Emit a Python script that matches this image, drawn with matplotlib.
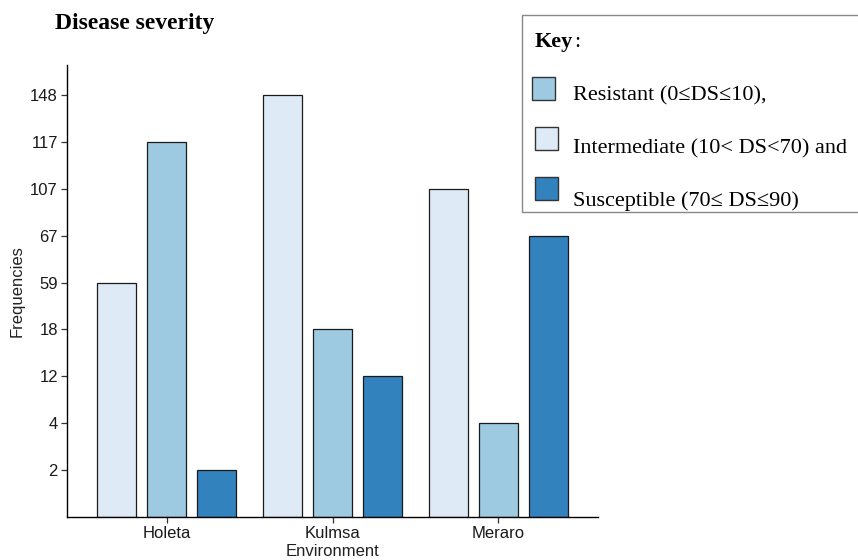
import numpy as np
import matplotlib.pyplot as plt
from matplotlib.patches import Rectangle

# Frequencies per environment and severity class
environments = ['Holeta', 'Kulmsa', 'Meraro']
intermediate = [59, 148, 107]
resistant = [117, 18, 4]
susceptible = [2, 12, 67]

colors = {'intermediate': '#deebf7', 'resistant': '#9ecae1', 'susceptible': '#3182bd'}

# y axis treats each distinct frequency as a discrete level
levels = sorted(set(intermediate + resistant + susceptible))
rank = {v: i + 1 for i, v in enumerate(levels)}

plt.rcParams['font.family'] = 'Liberation Sans'

fig = plt.figure(figsize=(8.58, 5.60), dpi=100)
ax = fig.add_axes([67 / 858, 1 - 517 / 560, 531 / 858, 452 / 560])

x = np.arange(1, len(environments) + 1)
width = 0.7 / 3
dodge = 0.3
series = [('intermediate', intermediate), ('resistant', resistant), ('susceptible', susceptible)]
for i, (name, vals) in enumerate(series):
    heights = [rank[v] for v in vals]
    ax.bar(x + (i - 1) * dodge, heights, width, color=colors[name],
           edgecolor='#1a1a1a', linewidth=0.9)

ax.set_xlim(0.4, 3.6)
ax.set_ylim(0, 9.64)
ax.set_xticks(x)
ax.set_xticklabels(environments)
ax.set_yticks(range(1, len(levels) + 1))
ax.set_yticklabels([str(v) for v in levels])
for s in ['top', 'right']:
    ax.spines[s].set_visible(False)
for s in ['left', 'bottom']:
    ax.spines[s].set_linewidth(1.0)
ax.tick_params(axis='both', length=4, width=0.9, color='#333333',
               labelsize=12, labelcolor='#1a1a1a', pad=2.5)
ax.set_xlabel('Environment', fontsize=12, color='#222222', labelpad=2.5)
ax.set_ylabel('Frequencies', fontsize=12, color='#222222', labelpad=4)

fig.text(55 / 858, 1 - 29 / 560, 'Disease severity', family='Liberation Serif',
         fontweight='bold', fontsize=17, ha='left', va='baseline')

# Key box
fig.add_artist(Rectangle((522 / 858, 1 - 212 / 560), 0.4, 197 / 560,
                         transform=fig.transFigure, facecolor='white',
                         edgecolor='#888888', linewidth=1.0))
key = fig.text(535 / 858, 1 - 47 / 560, 'Key', family='Liberation Serif',
               fontweight='bold', fontsize=16, va='baseline')
fig.canvas.draw()
key_right = key.get_window_extent().x1 / fig.bbox.width
fig.text(key_right + 0.5 / 858, 1 - 47 / 560, ':', family='Liberation Serif',
         fontsize=16, va='baseline')

key_items = [
    ('resistant', 'Resistant (0≤DS≤10),', 532, 77, 100),
    ('intermediate', 'Intermediate (10< DS<70) and', 535, 127, 153),
    ('susceptible', 'Susceptible (70≤ DS≤90)', 535, 177, 206),
]
for name, label, sx, sy, base in key_items:
    fig.add_artist(Rectangle((sx / 858, 1 - (sy + 23) / 560), 23 / 858, 23 / 560,
                             transform=fig.transFigure, facecolor=colors[name],
                             edgecolor='#333333', linewidth=1.0))
    fig.text(573 / 858, 1 - base / 560, label, family='Liberation Serif',
             fontsize=16, va='baseline')

fig.savefig('out.png', dpi=100)
